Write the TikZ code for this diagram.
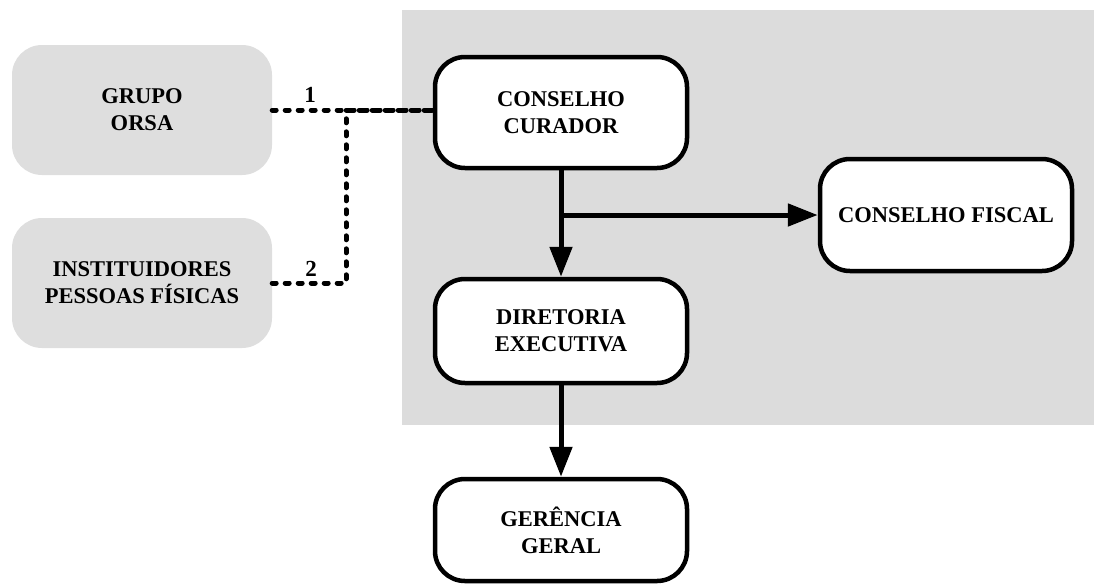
\documentclass[tikz,border=0pt]{standalone}
\usepackage{fontspec}
\setmainfont{Liberation Serif}
\usetikzlibrary{arrows.meta}
\definecolor{bggray}{HTML}{DCDCDC}
\definecolor{boxgray}{HTML}{DEDEDE}
\begin{document}
\begin{tikzpicture}[x=1pt,y=-1pt,
  whitebox/.style={draw=black, line width=4.5pt, fill=white, rounded corners=30pt,
    minimum width=252pt, align=center, font=\fontsize{22.5}{27}\selectfont\bfseries, inner sep=0pt},
  graybox/.style={fill=boxgray, rounded corners=30pt, minimum width=260pt, minimum height=130pt,
    align=center, font=\fontsize{22.5}{27}\selectfont\bfseries, inner sep=0pt},
  mainarrow/.style={line width=5pt, -{Triangle[length=30pt,width=22pt]}},
  dotline/.style={line width=5pt, line cap=round, dash pattern=on 4pt off 9pt},
  numlabel/.style={font=\fontsize{23}{26}\selectfont\bfseries, inner sep=0pt}
]
\useasboundingbox (0,0) rectangle (1094,584);
\fill[bggray] (402,10) rectangle (1094,425);

\node[graybox] (grupo) at (142,110) {GRUPO\\ORSA};
\node[graybox] (inst) at (142,283) {INSTITUIDORES\\PESSOAS FÍSICAS};

\node[whitebox, minimum height=111pt] (cur) at (561,112.5) {CONSELHO\\CURADOR};
\node[whitebox, minimum height=104pt] (dir) at (561,331) {DIRETORIA\\EXECUTIVA};
\node[whitebox, minimum height=102pt] (ger) at (561,530) {GERÊNCIA\\GERAL};
\node[whitebox, minimum height=112pt] (fis) at (946,215) {CONSELHO FISCAL};

\draw[mainarrow] (cur.south) -- (dir.north);
\coordinate (br) at (cur.south |- fis.west);
\draw[mainarrow] (br) -- (fis.west);
\draw[mainarrow] (dir.south) -- (ger.north);

\coordinate (j1) at (346,110);
\coordinate (j2) at (346,283);
\coordinate (cw) at (cur.west |- grupo.east);
\draw[dotline] (grupo.east) -- (cw);
\draw[dotline] (inst.east) -- (j2) -- (j1) -- (cw);

\node[numlabel] (n1) at (310,95) {1};
\node[numlabel] (n2) at (311,269) {2};
\end{tikzpicture}
\end{document}
